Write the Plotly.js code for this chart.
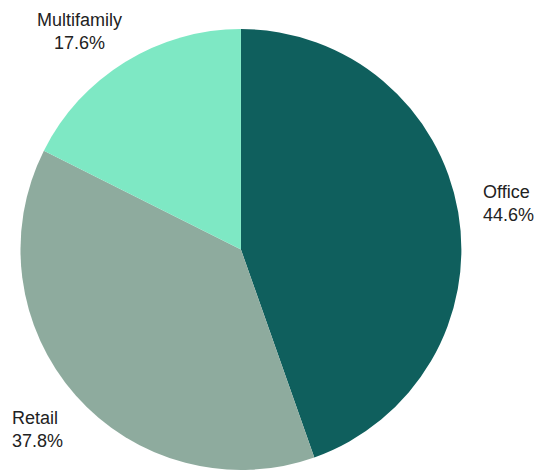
<!DOCTYPE html>
<html>
<head>
<meta charset="utf-8">
<script src="https://cdn.plot.ly/plotly-3.0.1.min.js"></script>
<style>html,body{margin:0;padding:0;background:#fff;overflow:hidden}#chart{width:539px;height:470px}</style>
</head>
<body>
<div id="chart"></div>
<script>
const categories = ["Office", "Retail", "Multifamily"];
const shares = [44.6, 37.8, 17.6];
const colors = ["#0f5f5d", "#8eab9e", "#7ee8c4"];

const W = 539, H = 470;
const dom = {x: [0.038, 0.856], y: [0, 0.9383]};
// pie geometry in pixels, derived from the domain
const cx = W * (dom.x[0] + dom.x[1]) / 2;
const cy = H * (1 - (dom.y[0] + dom.y[1]) / 2);
const R = Math.min(W * (dom.x[1] - dom.x[0]), H * (dom.y[1] - dom.y[0])) / 2;
const labelDist = R * 1.233;
const halfBox = 25; // half height of a two-line label

const total = shares.reduce((a, b) => a + b, 0);
let cum = 0;
const annotations = categories.map((c, i) => {
  let theta = (cum + shares[i] / 2) / total * 2 * Math.PI; // clockwise from top
  cum += shares[i];
  let x = cx + labelDist * Math.sin(theta);
  let y = cy - labelDist * Math.cos(theta);
  // keep the label inside the page: slide it along the label circle
  if (y - halfBox < 6) {
    const cosT = (cy - (6 + halfBox)) / labelDist;
    const sinSign = Math.sin(theta) < 0 ? -1 : 1;
    y = 6 + halfBox;
    x = cx + sinSign * labelDist * Math.sqrt(1 - cosT * cosT);
  }
  const side = Math.abs(Math.sin(theta)) > 0.7;
  return {
    x: x / W, y: 1 - y / H, xref: "paper", yref: "paper",
    xanchor: "center", yanchor: "middle",
    align: side ? "left" : "center",
    showarrow: false,
    text: c + "<br>" + shares[i].toFixed(1) + "%",
    font: {family: "Liberation Sans, Arial, sans-serif", size: 18, color: "#222"}
  };
});

Plotly.newPlot("chart", [{
  type: "pie",
  labels: categories,
  values: shares,
  sort: false,
  direction: "clockwise",
  rotation: 0,
  marker: {colors: colors, line: {width: 0}},
  textinfo: "none",
  hoverinfo: "none",
  domain: dom,
  automargin: false
}], {
  width: W, height: H,
  margin: {l: 0, r: 0, t: 0, b: 0},
  showlegend: false,
  paper_bgcolor: "#fff",
  annotations: annotations,
  font: {family: "Liberation Sans, Arial, sans-serif", size: 18, color: "#222"}
}, {staticPlot: true, displayModeBar: false});
</script>
</body>
</html>
